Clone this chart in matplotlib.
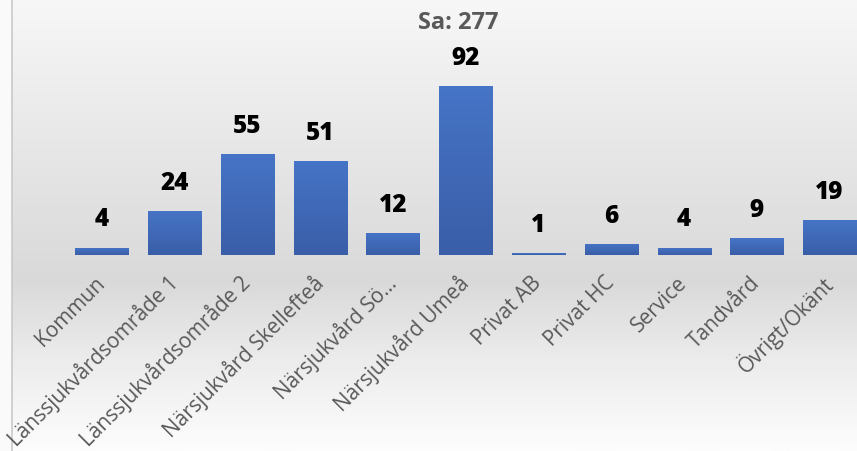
import numpy as np
import matplotlib
matplotlib.use("Agg")
import matplotlib.pyplot as plt
from matplotlib.colors import LinearSegmentedColormap

categories = ["Kommun", "Länssjukvårdsområde 1", "Länssjukvårdsområde 2",
              "Närsjukvård Skellefteå", "Närsjukvård Sö...", "Närsjukvård Umeå",
              "Privat AB", "Privat HC", "Service", "Tandvård", "Övrigt/Okänt"]
values = [4, 24, 55, 51, 12, 92, 1, 6, 4, 9, 19]
subtitle = "Sa: 277"

W, H = 857, 451
fig = plt.figure(figsize=(W / 100, H / 100), dpi=100)
fig.patch.set_facecolor("#fafafa")

# background gradient
bg = fig.add_axes([0, 0, 1, 1], zorder=0)
bg.set_axis_off()
bg_cmap = LinearSegmentedColormap.from_list(
    "bg", [(0.0, "#f7f7f7"), (0.35, "#e6e6e6"), (0.62, "#d9d9d9"),
           (0.8, "#ececec"), (1.0, "#fdfdfd")])
grad = np.linspace(0, 1, 256).reshape(-1, 1)
bg.imshow(grad, aspect="auto", cmap=bg_cmap, extent=[12, W, H, 0])
bg.axvline(12, color="#c9c9c9", lw=1.2)
bg.set_xlim(0, W)
bg.set_ylim(H, 0)

# main axes
left = 65.6 / W
right = 866 / W
bottom = 1 - 255 / H
top = 1 - (255 - 100 * 1.837) / H
ax = fig.add_axes([left, bottom, right - left, top - bottom], zorder=1)
ax.patch.set_alpha(0)
x = np.arange(len(categories))
bars = ax.bar(x, values, width=0.73, color="#4171c2", zorder=2)

bar_cmap = LinearSegmentedColormap.from_list("bar", ["#4674c6", "#3a5ea8"])
for b in bars:
    bx, by = b.get_x(), b.get_y()
    bw, bh = b.get_width(), b.get_height()
    im = ax.imshow(np.linspace(0, 1, 64).reshape(-1, 1), cmap=bar_cmap,
                   aspect="auto", extent=[bx, bx + bw, by, by + bh],
                   origin="upper", zorder=3)
    im.set_clip_path(b)

for xi, v in zip(x, values):
    ax.annotate(str(v), (xi, v), xytext=(0, 11), textcoords="offset points",
                ha="center", va="bottom", fontsize=17.5, fontweight="heavy",
                family="Open Sans", color="#000000", zorder=4)

ax.set_xlim(-0.5, len(categories) - 0.5)
ax.set_ylim(0, 100)
ax.set_yticks([])
ax.set_xticks(x)
ax.set_xticklabels(categories, rotation=45, ha="right", va="center",
                   rotation_mode="anchor", fontsize=15, family="Open Sans",
                   color="#595959")
ax.tick_params(axis="x", length=0, pad=18)
for s in ax.spines.values():
    s.set_visible(False)

fig.text(458 / W, 1 - 23 / H, subtitle, ha="center", va="center",
         fontsize=17, fontweight="bold", family="Open Sans", color="#595959")

fig.savefig("out.png", dpi=100)
